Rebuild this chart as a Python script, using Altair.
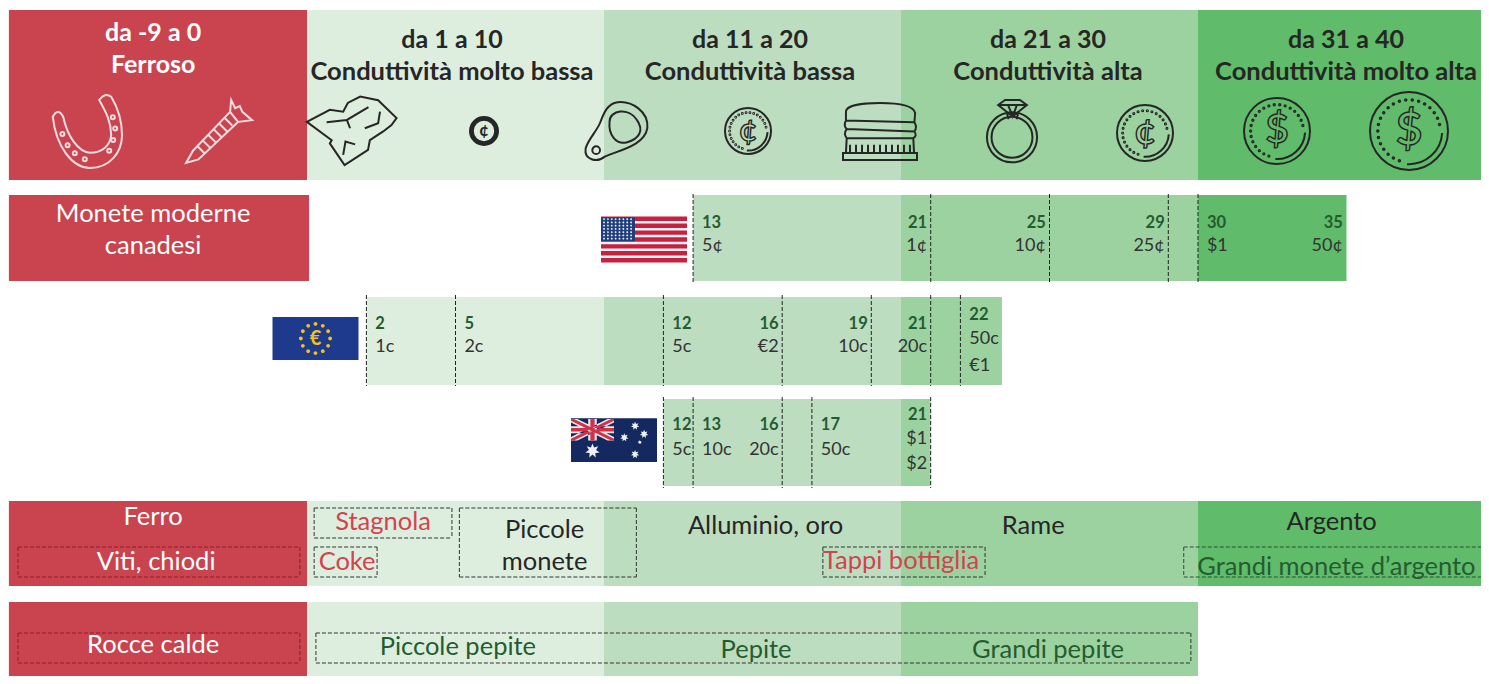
import math
import altair as alt
import pandas as pd

# ---------- values ----------
range_starts = [0, 10, 20, 30]
range_titles = ["da 1 a 10", "da 11 a 20", "da 21 a 30", "da 31 a 40"]
range_names = ["Conduttività molto bassa", "Conduttività bassa", "Conduttività alta", "Conduttività molto alta"]

us_values = [13, 21, 25, 29, 30, 35]
us_coins = [["5¢"], ["1¢"], ["10¢"], ["25¢"], ["$1"], ["50¢"]]
us_sides = ["l", "r", "r", "r", "l", "r"]
us_ticks = [13, 21, 25, 29, 30]

eu_values = [2, 5, 12, 16, 19, 21, 22]
eu_coins = [["1c"], ["2c"], ["5c"], ["€2"], ["10c"], ["20c"], ["50c", "€1"]]
eu_sides = ["l", "l", "l", "r", "r", "r", "l"]

au_values = [12, 13, 16, 17, 21]
au_coins = [["5c"], ["10c"], ["20c"], ["50c"], ["$1", "$2"]]
au_sides = ["l", "l", "r", "l", "r"]

# ---------- layout ----------
C_MIN, C_MAX = (8 - 307) / 29.7, (1481 - 307) / 29.7
RED = "#C9444E"
GREENS = ["#DEEEDE", "#BDDDC0", "#9CD2A0", "#60BB6A"]
INK = "#262626"
DARKGREEN = "#245C30"
FONT = "Lato"
LS = 25.5

rects, rules, texts, outlines, icons, flags = [], [], [], [], [], []


def rect(x, x2, top, bottom, color):
    rects.append(dict(x=x, x2=x2, y=top, y2=bottom, color=color))


def band(start, end, top, bottom):
    for i, s in enumerate(range_starts):
        a, b = max(start, s), min(end, s + 10)
        if a < b:
            rect(a, b, top, bottom, GREENS[i])


def text(t, x, y, size=LS, color=INK, weight="normal", align="center"):
    texts.append(dict(t=t, x=x, y=y, size=size, color=color, weight=weight, align=align))


def box(x, x2, top, bottom, color="#333333"):
    for a, b, c, d in [(x, x2, top, top), (x, x2, bottom, bottom), (x, x, top, bottom), (x2, x2, top, bottom)]:
        rules.append(dict(x=a, x2=b, y=c, y2=d, color=color))


def circ(cx, cy, r):
    return f"M{cx - r:.3f},{cy:.3f}A{r:.3f},{r:.3f} 0 1,1 {cx + r:.3f},{cy:.3f}A{r:.3f},{r:.3f} 0 1,1 {cx - r:.3f},{cy:.3f}Z"


def frect(x0, y0, x1, y1):
    return f"M{x0:.3f},{y0:.3f}L{x1:.3f},{y0:.3f}L{x1:.3f},{y1:.3f}L{x0:.3f},{y1:.3f}Z"


def icon(path, px, py, r, color=INK):
    icons.append(dict(path=path, x=(px - 307) / 29.7, y=py, size=(2 * r) ** 2, color=color))


def flag(path, px, py, color, r=43):
    flags.append(dict(path=path, x=(px - 307) / 29.7, y=py, size=(2 * r) ** 2, color=color, order=len(flags)))


# ---------- header ----------
rect(C_MIN + 0.03, 0, 10, 180, RED)
band(0, C_MAX, 10, 180)
text("da -9 a 0", -5.18, 33, 25, "white", "bold")
text("Ferroso", -5.18, 65, 25, "white", "bold")
for s, a, b, c in zip(range_starts, range_titles, range_names, [452, 750, 1048, 1346]):
    text(a, (c - 307) / 29.7, 40, 25, INK, "bold")
    text(b, (c - 307) / 29.7, 72, 25.5, INK, "bold")

# ---------- icons ----------
W = "#F3DCDD"
holes = [(-0.64, 0.05), (-0.51, 0.33), (-0.33, 0.53), (-0.08, 0.68), (0.53, 0.47), (0.63, 0.2), (0.68, -0.09), (0.62, -0.37)]
horseshoe = ("M-0.88,-0.38C-0.8,0.35 -0.4,0.9 0.05,0.9C0.55,0.9 0.85,0.5 0.85,0.08C0.85,-0.3 0.72,-0.65 0.58,-0.88"
             "Q0.42,-1 0.28,-0.8C0.45,-0.5 0.58,-0.25 0.58,0.08C0.55,0.35 0.35,0.52 0.05,0.52"
             "C-0.25,0.5 -0.52,0.1 -0.62,-0.38Q-0.75,-0.62 -0.88,-0.38Z"
             + "".join(circ(x, y, 0.05) for x, y in holes))
icon(horseshoe, 88, 132, 40, W)

screw = ("M0.31,-0.89L0.42,-0.66L0.55,-0.72L0.62,-0.56L0.89,-0.33L0.5,-0.28L0.28,-0.56Z"
         "M0.28,-0.56L-0.75,0.52L-0.94,0.86L-0.6,0.76L0.5,-0.28")
for i in range(6):
    t = i / 6
    cx, cy = 0.24 - t * 0.9, -0.28 + t * 0.95
    screw += f"M{cx - 0.1:.3f},{cy - 0.1:.3f}L{cx + 0.1:.3f},{cy + 0.1:.3f}"
icon(screw, 220, 132, 36, W)

rock = ("M-0.96,-0.2L-0.46,-0.46L-0.17,-0.42L-0.07,-0.61L0.2,-0.75L0.59,-0.67L0.99,-0.28L0.88,-0.13L0.7,0.01"
        "L0.41,0.2L0.37,0.41L-0.14,0.74L-0.46,0.27L-0.42,0.2Z"
        "M-0.53,-0.19L-0.09,-0.24L0.38,-0.52M-0.09,-0.24L-0.02,-0.06M0.63,-0.42L0.59,-0.17L0.3,-0.06"
        "M-0.17,0.52L-0.12,0.23L0.09,0.29")
icon(rock, 351, 131, 46)

tab = ("M-0.95,0.55C-1,0.9 -0.6,1 -0.35,0.8C0.1,0.6 0.9,0.45 0.98,-0.1C1.02,-0.6 0.5,-0.95 0.05,-0.9"
       "C-0.3,-0.85 -0.4,-0.5 -0.5,-0.25C-0.6,0 -0.9,0.3 -0.95,0.55Z"
       "M-0.2,-0.3C-0.2,-0.65 0.4,-0.75 0.65,-0.35C0.9,0 0.7,0.25 0.35,0.35C0,0.45 -0.25,0.1 -0.2,-0.3Z"
       + circ(-0.62, 0.6, 0.12))
icon(tab, 616, 131, 32)

cap = ("M-0.92,-0.3L-0.92,-0.55C-0.9,-0.72 -0.4,-0.77 0,-0.77C0.5,-0.77 0.9,-0.72 0.95,-0.5L0.93,-0.25"
       "C0.99,-0.15 0.97,-0.05 0.93,0C0.99,0.08 0.97,0.14 0.9,0.18L0.92,0.58"
       "M-0.92,-0.3C-0.98,-0.2 -0.95,-0.1 -0.9,-0.07C-0.98,0.05 -0.95,0.12 -0.9,0.18L-0.92,0.58"
       "M-0.92,-0.3L0.93,-0.25M-0.9,-0.07L0.93,0M-0.9,0.18L0.9,0.18"
       + frect(-1, 0.58, 1, 0.77))
for i in range(11):
    x = -0.81 + i * 0.162
    cap += f"M{x:.3f},0.36L{x:.3f},0.58"
icon(cap, 880, 131.5, 37)

ring = (circ(0, 0.13, 0.76) + circ(0, 0.13, 0.62)
        + "M-0.42,-0.85L-0.21,-1L0.24,-1L0.45,-0.85L0.02,-0.5ZM-0.42,-0.85L0.45,-0.85"
          "M-0.12,-0.85L0.02,-0.5L0.15,-0.85M-0.15,-0.58L-0.1,-0.42M0.18,-0.58L0.14,-0.42")
icon(ring, 1012, 133, 33)


def coin(glyph, px, py, r, gsize, outlined=True):
    p = circ(0, 0, 1)
    if outlined:
        p += "M0.85,0.05A0.85,0.85 0 0,1 -0.05,0.85"
        for k in range(30):
            a = 2 * math.pi * k / 30
            if not (-0.05 < a < 1.7):
                p += circ(0.8 * math.cos(a), 0.8 * math.sin(a), 0.02)
        outlines.append(dict(t=glyph, x=(px - 307) / 29.7, y=py, size=gsize))
    else:
        p += circ(0, 0, 0.9) + circ(0, 0, 0.8)
        text(glyph, (px - 307) / 29.7, py, gsize, INK, "bold")
    icon(p, px, py, r)


coin("¢", 484, 131, 14, 17, False)
coin("¢", 748, 131, 23, 32)
coin("¢", 1145, 133, 28, 38)
coin("$", 1277, 131, 33, 40)
coin("$", 1409, 131, 39, 46)

# ---------- coin rows ----------
rect(C_MIN + 0.03, 0.07, 195, 281, RED)
text("Monete moderne", -5.18, 214, LS, "white")
text("canadesi", -5.18, 246, LS, "white")
band(13, 35, 195, 281)
band(2, 23.4, 297, 385)
band(12, 21, 399, 486)


def coin_labels(values, coins, sides, ys):
    for v, lines, side in zip(values, coins, sides):
        pos = ys[len(lines)]
        x = v + 0.3 if side == "l" else v - 0.12
        al = "left" if side == "l" else "right"
        text(str(v), x, pos[0], 16.5, DARKGREEN, "bold", al)
        for l, y in zip(lines, pos[1:]):
            text(l, x, y, 18, "#333333", "normal", al)


coin_labels(us_values, us_coins, us_sides, {1: (223, 246)})
coin_labels(eu_values, eu_coins, eu_sides, {1: (324, 347), 2: (315, 339, 366)})
coin_labels(au_values, au_coins, au_sides, {1: (425, 450), 2: (415, 439, 464)})

for v in us_ticks:
    rules.append(dict(x=v, x2=v, y=194, y2=283, color="#222222"))
for v in eu_values:
    rules.append(dict(x=v, x2=v, y=295, y2=386, color="#222222"))
for v in au_values:
    rules.append(dict(x=v, x2=v, y=397, y2=488, color="#222222"))

# ---------- object rows ----------
rect(C_MIN + 0.03, 0, 501, 586, RED)
band(0, C_MAX, 501, 586)
rect(C_MIN + 0.03, 0, 602, 684, RED)
band(0, 30, 602, 684)

text("Ferro", -5.18, 517, LS, "white")
text("Viti, chiodi", -5.08, 562, LS, "white")
box(-9.73, -0.24, 547, 577, "#8E1C28")
text("Stagnola", 2.56, 522, LS, "#D2434F")
box(0.24, 4.88, 508, 538)
text("Coke", 1.35, 562, LS, "#D2434F")
box(0.24, 2.36, 547, 577)
text("Piccole", 8.0, 530, LS, INK)
text("monete", 8.0, 562, LS, INK)
box(5.13, 11.09, 508, 577)
text("Alluminio, oro", 15.44, 526, LS, INK)
text("Tappi bottiglia", 20.0, 561, LS, "#D2434F")
box(17.37, 22.83, 547, 577)
text("Rame", 24.45, 526, LS, INK)
text("Argento", 34.5, 522, LS, INK)
text("Grandi monete d’argento", 34.66, 567, LS, DARKGREEN)
box(29.52, C_MAX + 0.5, 547, 577, "#2F4F36")

text("Rocce calde", -5.18, 645, LS, "white")
box(-9.73, -0.24, 633, 663, "#8E1C28")
text("Piccole pepite", 5.08, 647, LS, DARKGREEN)
text("Pepite", 15.12, 650, LS, DARKGREEN)
text("Grandi pepite", 24.95, 650, LS, DARKGREEN)
box(0.3, 29.76, 633, 663)

# ---------- flags ----------
flag(frect(-1, -0.52, 1, 0.52), 644, 239.5, "#F4F4F6")
sh = 1.04 / 13
stripes = "".join(frect(-1, -0.52 + i * sh - 0.012, 1, -0.52 + (i + 1) * sh + 0.012) for i in range(0, 13, 2))
flag(stripes, 644, 239.5, "#C8203F")
flag(frect(-1, -0.52, -0.21, -0.52 + 7 * sh), 644, 239.5, "#1F3D7A")
flag("".join(circ(-0.93 + i * 0.09, -0.47 + j * 0.075, 0.022) for i in range(8) for j in range(7)), 644, 239.5, "#E8EEF8")

flag(frect(-1, -0.5, 1, 0.5), 315.5, 338.5, "#1E3A8C")
flag("".join(circ(0.34 * math.cos(k * math.pi / 6), 0.34 * math.sin(k * math.pi / 6), 0.045) for k in range(12)), 315.5, 338.5, "#F2C21B")
text("€", (315.5 - 307) / 29.7, 339, 20, "#F2C21B", "bold")

AU = (614, 440.5)
flag(frect(-1, -0.52, 1, 0.5), *AU, "#14295F")
flag("M-1,-0.5L-0.85,-0.5L0,-0.08L0,0L-0.15,0L-1,-0.42Z"
     "M0,-0.5L-0.15,-0.5L-1,-0.08L-1,0L-0.85,0L0,-0.42Z"
     + frect(-0.6, -0.5, -0.4, 0) + frect(-1, -0.33, 0, -0.17), *AU, "#F1E6EA")
flag("M-1,-0.5L-0.93,-0.5L0,-0.04L0,0L-0.07,0L-1,-0.46Z"
     "M0,-0.5L-0.07,-0.5L-1,-0.04L-1,0L-0.93,0L0,-0.46Z"
     + frect(-0.55, -0.5, -0.45, 0) + frect(-1, -0.29, 0, -0.21), *AU, "#D0324A")


def star(cx, cy, r, n=7):
    pts = []
    for k in range(2 * n):
        a = -math.pi / 2 + k * math.pi / n
        q = r if k % 2 == 0 else r * 0.5
        pts.append(f"{cx + q * math.cos(a):.3f},{cy + q * math.sin(a):.3f}")
    return "M" + "L".join(pts) + "Z"


flag(star(-0.5, 0.24, 0.17) + star(0.49, -0.34, 0.1) + star(0.24, -0.07, 0.1) + star(0.7, -0.15, 0.1)
     + star(0.49, 0.32, 0.1) + star(0.6, 0.04, 0.05), *AU, "#EEF2F8")

# ---------- chart ----------
xs = alt.Scale(domain=[C_MIN, C_MAX], range=[0, 1473], nice=False, zero=False)
ys = alt.Scale(domain=[8, 676], range=[0, 668], nice=False, zero=False)
X = alt.X("x:Q", scale=xs, axis=None)
Y = alt.Y("y:Q", scale=ys, axis=None)

layers = [
    alt.Chart(pd.DataFrame(rects)).mark_rect().encode(
        x=X, x2="x2:Q", y=Y, y2="y2:Q", color=alt.Color("color:N", scale=None)),
    alt.Chart(pd.DataFrame(flags)).mark_point(filled=True, opacity=1, strokeWidth=0).encode(
        x=X, y=Y, shape=alt.Shape("path:N", scale=None), size=alt.Size("size:Q", scale=None),
        fill=alt.Fill("color:N", scale=None), order=alt.Order("order:Q")),
    alt.Chart(pd.DataFrame(icons)).mark_point(filled=False, opacity=1, strokeWidth=2).encode(
        x=X, y=Y, shape=alt.Shape("path:N", scale=None), size=alt.Size("size:Q", scale=None),
        stroke=alt.Stroke("color:N", scale=None)),
    alt.Chart(pd.DataFrame(rules)).mark_rule(strokeDash=[4, 2], strokeWidth=1, clip=True).encode(
        x=X, x2="x2:Q", y=Y, y2="y2:Q", color=alt.Color("color:N", scale=None)),
    alt.Chart(pd.DataFrame(outlines)).mark_text(
        font=FONT, fontWeight="bold", align="center", baseline="middle",
        fillOpacity=0, stroke=INK, strokeWidth=1.4).encode(
        x=X, y=Y, text="t:N", size=alt.Size("size:Q", scale=None)),
]
tdf = pd.DataFrame(texts)
for (w, al), g in tdf.groupby(["weight", "align"]):
    layers.append(
        alt.Chart(g).mark_text(font=FONT, fontWeight=w, align=al, baseline="middle").encode(
            x=X, y=Y, text="t:N", size=alt.Size("size:Q", scale=None), color=alt.Color("color:N", scale=None)))

chart = alt.layer(*layers).properties(
    width=1473, height=668, padding=0, autosize=alt.AutoSizeParams(type="none"),
    background="white",
).configure_view(stroke=None)

chart.save("out.html", embed_options={"renderer": "svg", "actions": False})
